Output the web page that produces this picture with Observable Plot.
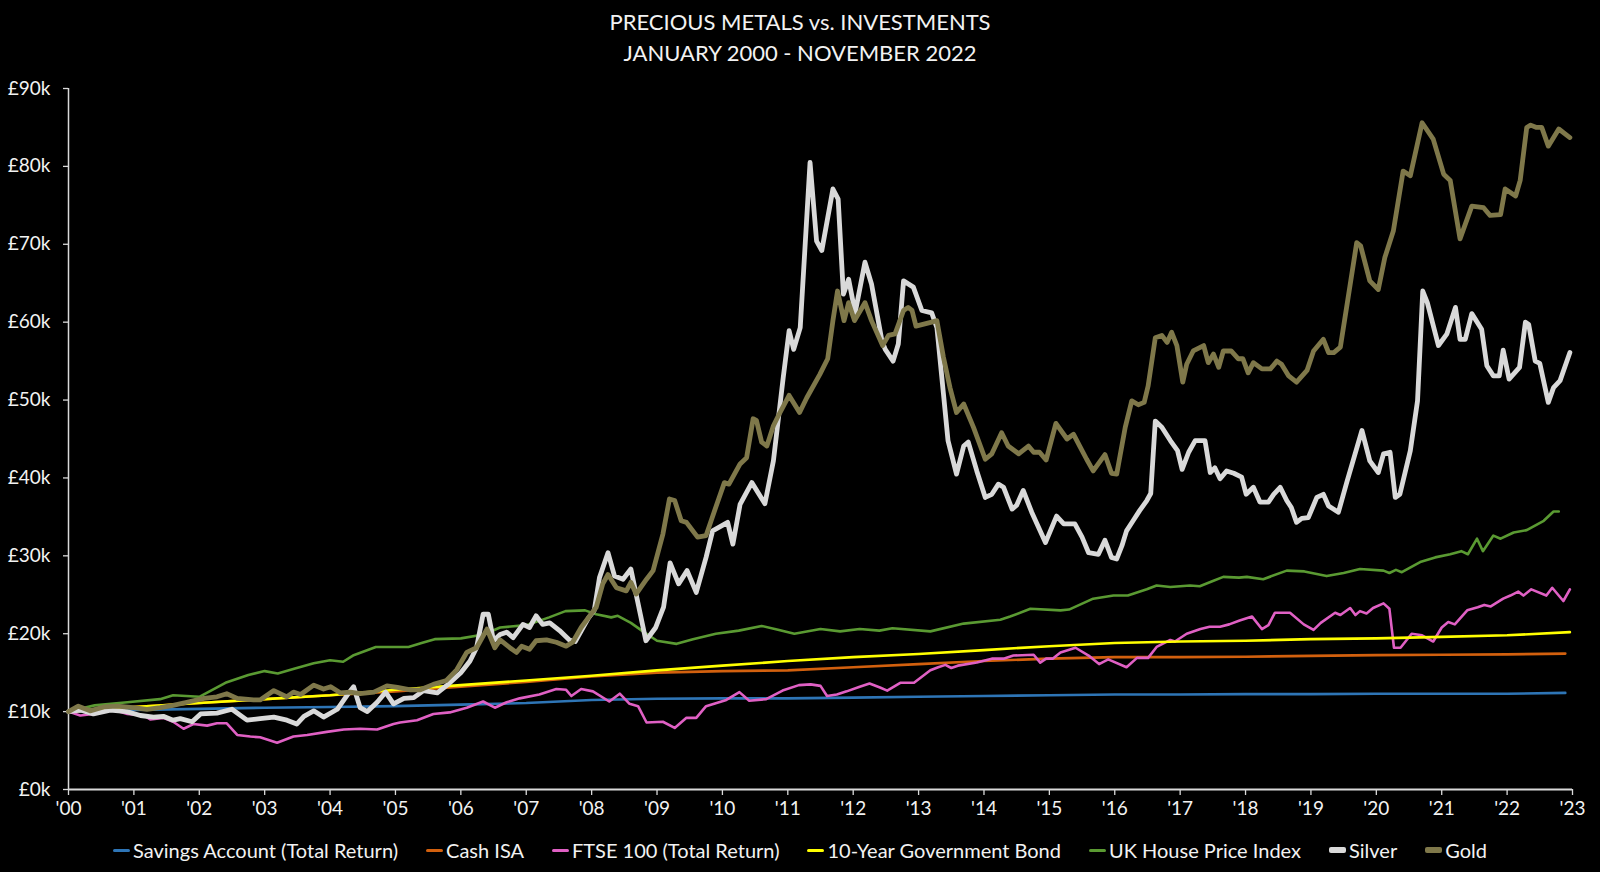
<!DOCTYPE html>
<html>
<head>
<meta charset="utf-8">
<script src="https://cdn.jsdelivr.net/npm/d3@7"></script>
<script src="https://cdn.jsdelivr.net/npm/@observablehq/plot@0.6"></script>
<style>
  html, body { margin: 0; padding: 0; background: #000; }
  body { width: 1600px; height: 872px; overflow: hidden; font-family: Lato, "Open Sans", sans-serif; color: #fff; }
  #title { height: 70px; box-sizing: border-box; padding-top: 6px; text-align: center; font-size: 22px; line-height: 31px; color: #f2f2f2; }
  #legend { height: 40px; display: flex; justify-content: center; align-items: center; font-size: 20px; color: #f2f2f2; }
  .item { display: flex; align-items: center; margin: 0 14px; }
  .sw { width: 17px; border-radius: 2px; margin-right: 3px; }
</style>
</head>
<body>
<div id="title">PRECIOUS METALS vs. INVESTMENTS<br>JANUARY 2000 - NOVEMBER 2022</div>
<div id="chart"></div>
<div id="legend"></div>
<script>
// ---- DATA (values in £ thousands, time in fractional years) ----
const seriesNames = ["Savings Account (Total Return)", "Cash ISA", "FTSE 100 (Total Return)", "10-Year Government Bond", "UK House Price Index", "Silver", "Gold"];

const savings = [[2000,10.0],[2001,10.2],[2002,10.35],[2003,10.5],[2004,10.6],[2005,10.7],[2006,10.9],[2007,11.1],[2008,11.5],[2009,11.65],[2010,11.7],[2011,11.7],[2012,11.8],[2013,11.9],[2014,12.0],[2015,12.1],[2016,12.2],[2017,12.2],[2018,12.25],[2019,12.25],[2020,12.3],[2021,12.3],[2022,12.3],[2022.89,12.4]];

const cashIsa = [[2000,10.0],[2001,10.6],[2002,11.1],[2003,11.6],[2004,12.1],[2005,12.6],[2006,13.2],[2007,13.8],[2008,14.5],[2009,15.0],[2010,15.2],[2011,15.3],[2012,15.7],[2013,16.1],[2014,16.5],[2015,16.8],[2016,17.0],[2017,17.0],[2018,17.05],[2019,17.15],[2020,17.25],[2021,17.3],[2022,17.35],[2022.89,17.45]];

const ftse = [[2000,10.0],[2000.18,9.5],[2000.38,9.7],[2000.54,10.2],[2000.74,10.1],[2000.9,9.7],[2001.15,9.5],[2001.25,9.0],[2001.45,9.2],[2001.6,8.7],[2001.76,7.8],[2001.91,8.4],[2002.12,8.2],[2002.27,8.5],[2002.42,8.5],[2002.58,7.0],[2002.78,6.8],[2002.93,6.7],[2003.19,6.0],[2003.44,6.8],[2003.65,7.0],[2003.95,7.4],[2004.21,7.7],[2004.46,7.8],[2004.72,7.7],[2004.97,8.4],[2005.07,8.6],[2005.33,8.9],[2005.58,9.7],[2005.83,9.9],[2006.09,10.5],[2006.34,11.3],[2006.52,10.5],[2006.7,11.2],[2006.9,11.7],[2007.2,12.2],[2007.46,12.9],[2007.61,12.8],[2007.69,12.0],[2007.84,12.9],[2008.02,12.6],[2008.27,11.3],[2008.43,12.3],[2008.58,11.0],[2008.71,10.7],[2008.84,8.6],[2009.09,8.7],[2009.27,7.9],[2009.45,9.2],[2009.6,9.2],[2009.75,10.7],[2010.06,11.5],[2010.26,12.5],[2010.41,11.4],[2010.67,11.6],[2010.92,12.7],[2011.17,13.4],[2011.35,13.5],[2011.5,13.3],[2011.6,12.0],[2011.75,12.2],[2011.9,12.6],[2012.1,13.2],[2012.25,13.6],[2012.41,13.1],[2012.52,12.7],[2012.72,13.7],[2012.93,13.7],[2013.18,15.3],[2013.3,15.7],[2013.41,16.0],[2013.5,15.6],[2013.6,15.9],[2013.89,16.3],[2014.12,16.8],[2014.3,16.8],[2014.45,17.2],[2014.76,17.3],[2014.86,16.3],[2014.95,16.8],[2015.05,16.8],[2015.17,17.6],[2015.4,18.2],[2015.6,17.2],[2015.76,16.1],[2015.9,16.7],[2016.18,15.7],[2016.34,16.9],[2016.51,16.9],[2016.64,18.3],[2016.85,19.2],[2016.92,19.0],[2017.1,20.0],[2017.31,20.6],[2017.45,20.9],[2017.61,20.9],[2017.75,21.2],[2017.91,21.7],[2018.1,22.2],[2018.25,20.6],[2018.35,21.1],[2018.45,22.7],[2018.68,22.7],[2018.89,21.2],[2019.04,20.5],[2019.15,21.4],[2019.37,22.7],[2019.45,22.4],[2019.6,23.3],[2019.68,22.4],[2019.75,22.9],[2019.85,22.6],[2019.95,23.3],[2020.11,23.9],[2020.2,23.2],[2020.27,18.2],[2020.37,18.2],[2020.54,20.0],[2020.7,19.8],[2020.87,19.0],[2021.0,20.8],[2021.1,21.5],[2021.2,21.2],[2021.39,23.0],[2021.55,23.4],[2021.65,23.7],[2021.75,23.5],[2021.94,24.5],[2022.05,24.9],[2022.17,25.4],[2022.25,24.9],[2022.37,25.7],[2022.6,24.9],[2022.69,25.9],[2022.86,24.2],[2022.96,25.7]];

const bond = [[2000,10.0],[2001,10.6],[2002,11.1],[2003,11.6],[2004,12.1],[2005,12.8],[2006,13.4],[2007,14.0],[2008,14.6],[2009,15.3],[2010,15.9],[2011,16.5],[2012,17.0],[2013,17.4],[2014,17.9],[2015,18.4],[2016,18.8],[2017,19.0],[2018,19.1],[2019,19.3],[2020,19.4],[2021,19.6],[2022,19.8],[2022.96,20.2]];

const house = [[2000,10.0],[2000.4,10.8],[2000.9,11.2],[2001.4,11.6],[2001.6,12.1],[2002.0,11.9],[2002.4,13.7],[2002.75,14.7],[2003.0,15.2],[2003.2,14.9],[2003.45,15.5],[2003.75,16.2],[2004.0,16.6],[2004.2,16.4],[2004.35,17.2],[2004.7,18.3],[2005.0,18.3],[2005.2,18.3],[2005.4,18.8],[2005.6,19.3],[2006.0,19.4],[2006.35,19.9],[2006.6,20.8],[2007.0,21.1],[2007.35,22.1],[2007.6,22.9],[2007.9,23.0],[2008.07,22.5],[2008.3,22.1],[2008.4,22.3],[2008.6,21.4],[2008.8,20.2],[2009.0,19.1],[2009.3,18.7],[2009.55,19.3],[2009.9,20.0],[2010.25,20.4],[2010.6,21.0],[2010.85,20.5],[2011.1,20.0],[2011.5,20.6],[2011.8,20.3],[2012.1,20.6],[2012.4,20.4],[2012.6,20.7],[2013.18,20.3],[2013.69,21.3],[2014.25,21.8],[2014.4,22.2],[2014.71,23.2],[2015.17,23.0],[2015.3,23.1],[2015.67,24.5],[2015.98,24.9],[2016.2,24.9],[2016.49,25.7],[2016.64,26.2],[2016.85,26.0],[2017.15,26.2],[2017.3,26.1],[2017.51,26.8],[2017.66,27.3],[2017.9,27.2],[2018.02,27.3],[2018.27,27.0],[2018.63,28.1],[2018.9,28.0],[2019.24,27.4],[2019.5,27.8],[2019.75,28.3],[2020.11,28.1],[2020.2,27.8],[2020.3,28.2],[2020.39,27.9],[2020.67,29.2],[2020.9,29.8],[2021.13,30.2],[2021.3,30.6],[2021.4,30.2],[2021.54,32.2],[2021.63,30.6],[2021.79,32.6],[2021.9,32.2],[2022.1,33.0],[2022.3,33.3],[2022.56,34.5],[2022.71,35.7],[2022.79,35.7]];

const silver = [[2000.0,10.0],[2000.18,10.2],[2000.38,9.7],[2000.64,10.2],[2000.89,10.0],[2001.1,9.5],[2001.3,9.3],[2001.45,9.4],[2001.6,8.9],[2001.71,9.1],[2001.89,8.7],[2002.02,9.7],[2002.27,9.8],[2002.5,10.3],[2002.73,8.9],[2002.93,9.1],[2003.14,9.3],[2003.34,8.9],[2003.49,8.4],[2003.6,9.4],[2003.75,10.1],[2003.9,9.3],[2004.11,10.3],[2004.26,12.1],[2004.36,13.2],[2004.46,10.5],[2004.57,10.0],[2004.72,11.2],[2004.85,12.5],[2004.97,11.0],[2005.13,11.7],[2005.28,11.8],[2005.43,12.7],[2005.64,12.4],[2005.79,13.4],[2006.0,15.0],[2006.14,16.5],[2006.24,18.2],[2006.34,22.5],[2006.42,22.5],[2006.5,19.1],[2006.6,19.9],[2006.7,20.2],[2006.8,19.5],[2006.95,21.2],[2007.05,20.8],[2007.15,22.3],[2007.25,21.2],[2007.36,21.4],[2007.51,20.4],[2007.66,19.2],[2007.75,19.0],[2007.85,20.5],[2007.95,22.0],[2008.04,23.0],[2008.12,27.2],[2008.25,30.4],[2008.35,27.4],[2008.48,27.0],[2008.6,28.3],[2008.67,25.5],[2008.83,19.1],[2008.98,20.8],[2009.1,23.4],[2009.2,29.1],[2009.33,26.4],[2009.46,28.1],[2009.6,25.3],[2009.75,29.8],[2009.85,33.2],[2010.08,34.3],[2010.16,31.5],[2010.27,36.6],[2010.45,39.4],[2010.65,36.7],[2010.78,42.2],[2010.93,52.9],[2011.02,58.9],[2011.09,56.5],[2011.19,59.3],[2011.34,80.5],[2011.44,70.4],[2011.52,69.2],[2011.69,77.1],[2011.77,75.8],[2011.85,63.6],[2011.93,65.5],[2012.03,61.2],[2012.18,67.7],[2012.28,64.9],[2012.44,57.6],[2012.49,56.5],[2012.61,55.0],[2012.69,57.2],[2012.77,65.3],[2012.92,64.5],[2013.05,61.5],[2013.2,61.2],[2013.28,59.3],[2013.38,50.8],[2013.45,44.8],[2013.58,40.5],[2013.69,44.1],[2013.76,44.6],[2013.89,40.9],[2014.02,37.5],[2014.12,37.9],[2014.22,39.2],[2014.3,38.8],[2014.43,36.0],[2014.5,36.5],[2014.6,38.4],[2014.73,35.6],[2014.94,31.7],[2015.11,35.1],[2015.22,34.1],[2015.39,34.1],[2015.5,32.4],[2015.6,30.4],[2015.75,30.2],[2015.85,32.0],[2015.95,29.8],[2016.03,29.6],[2016.11,31.3],[2016.18,33.2],[2016.28,34.5],[2016.38,35.8],[2016.49,37.1],[2016.55,38.0],[2016.62,47.3],[2016.72,46.5],[2016.85,44.8],[2016.96,43.5],[2017.03,41.1],[2017.13,43.3],[2017.23,44.8],[2017.38,44.8],[2017.46,40.7],[2017.53,41.3],[2017.61,39.9],[2017.71,40.9],[2017.82,40.6],[2017.94,40.1],[2018.01,37.9],[2018.12,38.8],[2018.22,36.9],[2018.35,36.9],[2018.43,37.9],[2018.53,38.8],[2018.63,37.1],[2018.7,36.2],[2018.78,34.3],[2018.86,34.8],[2018.96,34.9],[2019.09,37.5],[2019.19,37.9],[2019.27,36.4],[2019.42,35.6],[2019.55,39.5],[2019.78,46.1],[2019.9,42.2],[2020.03,40.7],[2020.11,43.1],[2020.21,43.3],[2020.29,37.5],[2020.36,37.9],[2020.52,43.5],[2020.63,49.9],[2020.71,64.0],[2020.78,62.5],[2020.95,57.0],[2021.08,58.5],[2021.21,61.9],[2021.28,57.8],[2021.36,57.8],[2021.46,61.1],[2021.61,59.1],[2021.69,54.4],[2021.79,53.1],[2021.88,53.1],[2021.94,56.4],[2022.03,52.7],[2022.19,54.2],[2022.28,60.0],[2022.33,59.7],[2022.43,55.0],[2022.5,54.7],[2022.63,49.7],[2022.71,51.6],[2022.81,52.5],[2022.96,56.1]];

const gold = [[2000.0,10.0],[2000.15,10.7],[2000.33,10.1],[2000.54,10.6],[2000.74,10.7],[2000.99,10.5],[2001.2,10.3],[2001.4,10.5],[2001.6,10.8],[2001.81,11.2],[2002.07,11.7],[2002.27,11.9],[2002.42,12.3],[2002.58,11.7],[2002.83,11.5],[2002.93,11.5],[2003.14,12.7],[2003.34,11.9],[2003.44,12.5],[2003.55,12.2],[2003.75,13.4],[2003.9,12.9],[2004.01,13.2],[2004.16,12.4],[2004.31,12.5],[2004.46,12.3],[2004.67,12.5],[2004.87,13.3],[2005.03,13.1],[2005.23,12.8],[2005.38,12.8],[2005.58,13.5],[2005.78,14.0],[2005.94,15.4],[2006.09,17.6],[2006.24,18.2],[2006.4,20.6],[2006.52,18.2],[2006.6,19.2],[2006.75,18.2],[2006.85,17.6],[2006.93,18.4],[2007.05,18.0],[2007.15,19.1],[2007.31,19.2],[2007.46,18.9],[2007.61,18.4],[2007.71,18.9],[2007.84,20.8],[2007.99,22.5],[2008.07,23.4],[2008.17,26.4],[2008.25,27.6],[2008.38,25.9],[2008.53,25.5],[2008.6,26.6],[2008.68,25.1],[2008.84,27.0],[2008.94,28.1],[2009.09,32.8],[2009.19,37.3],[2009.27,37.1],[2009.37,34.5],[2009.45,34.3],[2009.62,32.4],[2009.75,32.6],[2009.88,35.8],[2010.03,39.4],[2010.1,39.2],[2010.27,41.8],[2010.37,42.6],[2010.47,47.6],[2010.52,47.4],[2010.6,44.6],[2010.68,44.1],[2010.78,46.7],[2010.88,48.4],[2011.02,50.6],[2011.18,48.4],[2011.29,50.3],[2011.49,53.3],[2011.61,55.3],[2011.69,60.2],[2011.76,64.0],[2011.86,60.2],[2011.93,62.5],[2012.02,60.2],[2012.18,62.5],[2012.28,60.2],[2012.45,57.0],[2012.54,58.3],[2012.64,58.5],[2012.77,61.5],[2012.84,61.9],[2012.9,61.5],[2012.96,59.5],[2013.2,60.0],[2013.28,60.2],[2013.38,55.5],[2013.48,51.6],[2013.58,48.4],[2013.69,49.5],[2013.84,46.5],[2014.02,42.4],[2014.12,43.1],[2014.27,45.8],[2014.37,44.1],[2014.53,43.1],[2014.68,44.1],[2014.76,43.3],[2014.85,43.3],[2014.95,42.3],[2015.1,47.0],[2015.27,45.0],[2015.37,45.6],[2015.47,44.0],[2015.57,42.4],[2015.67,40.9],[2015.85,43.0],[2015.95,40.6],[2016.03,40.5],[2016.16,46.5],[2016.26,49.9],[2016.36,49.4],[2016.45,49.7],[2016.51,51.8],[2016.62,58.0],[2016.72,58.3],[2016.8,57.4],[2016.87,58.7],[2016.95,57.0],[2017.04,52.3],[2017.1,54.6],[2017.2,56.3],[2017.36,57.0],[2017.43,54.8],[2017.51,55.9],[2017.59,54.2],[2017.66,56.3],[2017.78,56.3],[2017.89,55.3],[2017.96,55.3],[2018.04,53.5],[2018.12,54.8],[2018.25,54.0],[2018.38,54.0],[2018.48,55.0],[2018.55,54.6],[2018.66,53.1],[2018.78,52.3],[2018.94,53.8],[2019.04,56.3],[2019.19,57.8],[2019.27,56.1],[2019.35,56.1],[2019.45,56.8],[2019.57,63.2],[2019.7,70.2],[2019.76,69.8],[2019.9,65.3],[2020.03,64.2],[2020.13,68.3],[2020.26,71.7],[2020.41,79.4],[2020.52,78.8],[2020.7,85.6],[2020.87,83.5],[2021.03,79.0],[2021.13,78.2],[2021.28,70.7],[2021.46,74.9],[2021.64,74.7],[2021.74,73.7],[2021.9,73.8],[2021.97,77.1],[2022.13,76.2],[2022.2,78.2],[2022.3,85.0],[2022.36,85.3],[2022.45,85.0],[2022.53,85.0],[2022.63,82.6],[2022.79,84.8],[2022.96,83.7]];

const xTicks = d3.range(2000, 2024);
const yTicks = d3.range(0, 91, 10);

// ---- STYLE ----
const seriesData = [savings, cashIsa, ftse, bond, house, silver, gold];
const colors = ["#2E75B6", "#D2600E", "#E060C4", "#FFFF00", "#5A9A32", "#D9D9D9", "#7F784A"];
const widths = [2.6, 2.6, 2.6, 2.6, 2.6, 4.8, 4.8];

const axisColor = "#d9d9d9";
const chart = Plot.plot({
  width: 1600,
  height: 760,
  marginLeft: 68,
  marginRight: 28,
  marginTop: 18,
  marginBottom: 41,
  style: {background: "#000", color: "#f2f2f2", fontFamily: "Lato, 'Open Sans', sans-serif", fontSize: "19px", overflow: "visible"},
  x: {domain: [2000, 2023], label: null},
  y: {domain: [0, 90], label: null},
  marks: [
    Plot.axisY({ticks: yTicks, tickFormat: d => "£" + d + "k", tickSize: 5, tickPadding: 13, stroke: axisColor, strokeWidth: 1.3, fontSize: 19, label: null}),
    Plot.axisX({ticks: xTicks, tickFormat: d => "'" + String(d).slice(2), tickSize: 6, tickPadding: 6, stroke: axisColor, strokeWidth: 1.3, fontSize: 19, label: null}),
    Plot.ruleX([2000], {stroke: axisColor, strokeWidth: 1.5}),
    Plot.ruleY([0], {stroke: axisColor, strokeWidth: 2}),
    ...seriesData.map((arr, i) => Plot.line(arr, {
      x: d => d[0], y: d => d[1], stroke: colors[i], strokeWidth: widths[i], strokeLinejoin: "round", strokeLinecap: "round"
    }))
  ]
});
document.getElementById("chart").appendChild(chart);

// ---- LEGEND ----
const legend = document.getElementById("legend");
seriesNames.forEach((name, i) => {
  const item = document.createElement("div");
  item.className = "item";
  const sw = document.createElement("span");
  sw.className = "sw";
  sw.style.background = colors[i];
  sw.style.height = (i >= 5 ? 6 : 3) + "px";
  const label = document.createElement("span");
  label.textContent = name;
  item.appendChild(sw);
  item.appendChild(label);
  legend.appendChild(item);
});
</script>
</body>
</html>
